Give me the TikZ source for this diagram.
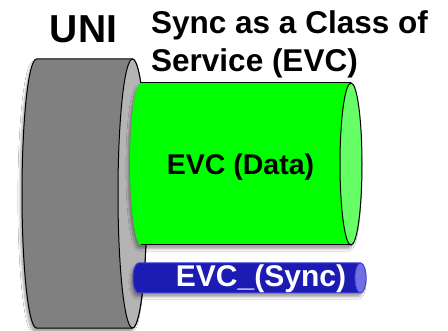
\documentclass[tikz,border=0pt]{standalone}
\usepackage{fontspec}
\setmainfont{Liberation Sans}
\usetikzlibrary{shadows.blur}
\definecolor{uniface}{HTML}{808080}
\definecolor{uniend}{HTML}{B4B4B4}
\definecolor{datagreen}{HTML}{00FF00}
\definecolor{dataend}{HTML}{66FF66}
\definecolor{syncfill}{HTML}{1C1CB4}
\definecolor{syncedge}{HTML}{4040D8}
\definecolor{syncend}{HTML}{7070E4}
\tikzset{
  outline/.style={draw=black, line width=1pt},
  lbl/.style={font=\bfseries, inner sep=0pt, anchor=base},
  shade/.style={blur shadow={shadow xshift=-2pt, shadow yshift=-4pt, shadow blur steps=6, shadow opacity=35}}
}
\begin{document}
\begin{tikzpicture}[x=1pt,y=1pt]
\useasboundingbox[fill=white] (0,0) rectangle (448,330);
% UNI cylinder
\path[fill=uniface, shade, outline]
  (132.5,271) -- (36.5,271) arc[start angle=90, end angle=270, x radius=14.5, y radius=134.5]
  -- (132.5,2) arc[start angle=-90, end angle=90, x radius=14.5, y radius=134.5] -- cycle;
\path[fill=uniend, outline] (132.5,136.5) ellipse[x radius=14.5, y radius=134.5];
% Data EVC
\path[fill=datagreen, shade]
  (351,247) -- (141,247) arc[start angle=90, end angle=270, x radius=11, y radius=81]
  -- (351,85) arc[start angle=-90, end angle=90, x radius=11, y radius=81] -- cycle;
\draw[outline] (141,247) -- (351,247);
\draw[outline] (141,85) -- (351,85);
\path[fill=dataend, outline] (351,166) ellipse[x radius=11, y radius=81];
% Sync EVC
\path[fill=syncfill, shade, draw=syncedge, line width=1pt]
  (360.5,67) -- (138.5,67) arc[start angle=90, end angle=270, x radius=5.5, y radius=15]
  -- (360.5,37) arc[start angle=-90, end angle=90, x radius=5.5, y radius=15] -- cycle;
\path[fill=syncend, draw=syncedge, line width=0.8pt] (360.5,52) ellipse[x radius=5.5, y radius=15];
% labels
\node[lbl, font=\fontsize{39}{39}\selectfont\bfseries] (uni) at (83.5,287) {UNI};
\node[lbl, anchor=base west, align=left, font=\fontsize{31.5}{39}\selectfont\bfseries] (title) at (151,258) {Sync as a Class of\\Service (EVC)};
\node[lbl, font=\fontsize{28.5}{30}\selectfont\bfseries] (data) at (240.5,155) {EVC (Data)};
\node[lbl, text=white, font=\fontsize{30}{30}\selectfont\bfseries] (sync) at (261,44) {EVC\_(Sync)};
\end{tikzpicture}
\end{document}
